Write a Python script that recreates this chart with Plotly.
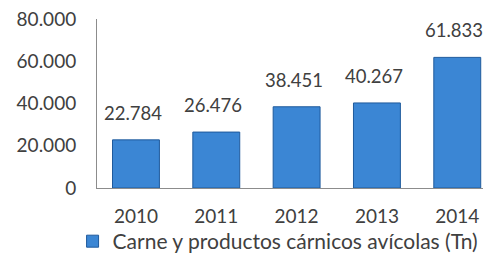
import plotly.graph_objects as go

years = ["2010", "2011", "2012", "2013", "2014"]
values = [22784, 26476, 38451, 40267, 61833]
value_labels = ["22.784", "26.476", "38.451", "40.267", "61.833"]
series_name = "Carne y productos cárnicos avícolas (Tn)"
y_ticks = [0, 20000, 40000, 60000, 80000]
y_tick_labels = ["0", "20.000", "40.000", "60.000", "80.000"]

text_color = "#404040"
font_family = "Lato, Carlito, sans-serif"

fig = go.Figure()
fig.add_trace(go.Bar(
    x=years, y=values, name=series_name,
    marker=dict(color="#3b86d4", line=dict(color="#1f5a9c", width=1)),
    showlegend=True,
))

for i, (v, lab) in enumerate(zip(values, value_labels)):
    fig.add_annotation(x=i, xref="x", y=v, yref="y", text=lab, showarrow=False,
                       yanchor="bottom", yshift=14, xshift=-3,
                       font=dict(size=18.5, color=text_color, family=font_family))

fig.update_layout(
    width=483, height=251,
    margin=dict(l=89, r=0, t=11, b=71, autoexpand=False),
    paper_bgcolor="white", plot_bgcolor="white",
    bargap=0.416,
    font=dict(family=font_family, size=19, color=text_color),
    showlegend=True,
    legend=dict(orientation="h", x=-0.062, xanchor="left", y=-0.438, yanchor="bottom",
                font=dict(size=21, color=text_color), itemwidth=30,
                bgcolor="rgba(0,0,0,0)"),
    xaxis=dict(type="category", range=[-0.485, 4.42], showgrid=False,
               showline=True, linecolor="#8c8c8c", linewidth=1,
               ticks="", ticklabelstandoff=11,
               tickfont=dict(size=19, color=text_color)),
    yaxis=dict(range=[0, 80000], tickvals=y_ticks, ticktext=y_tick_labels,
               showgrid=False, zeroline=False, showline=True,
               linecolor="#8c8c8c", linewidth=1, ticks="",
               ticklabelstandoff=16, ticklabeloverflow="allow",
               tickfont=dict(size=19, color=text_color)),
)

fig.write_html("out.html")
